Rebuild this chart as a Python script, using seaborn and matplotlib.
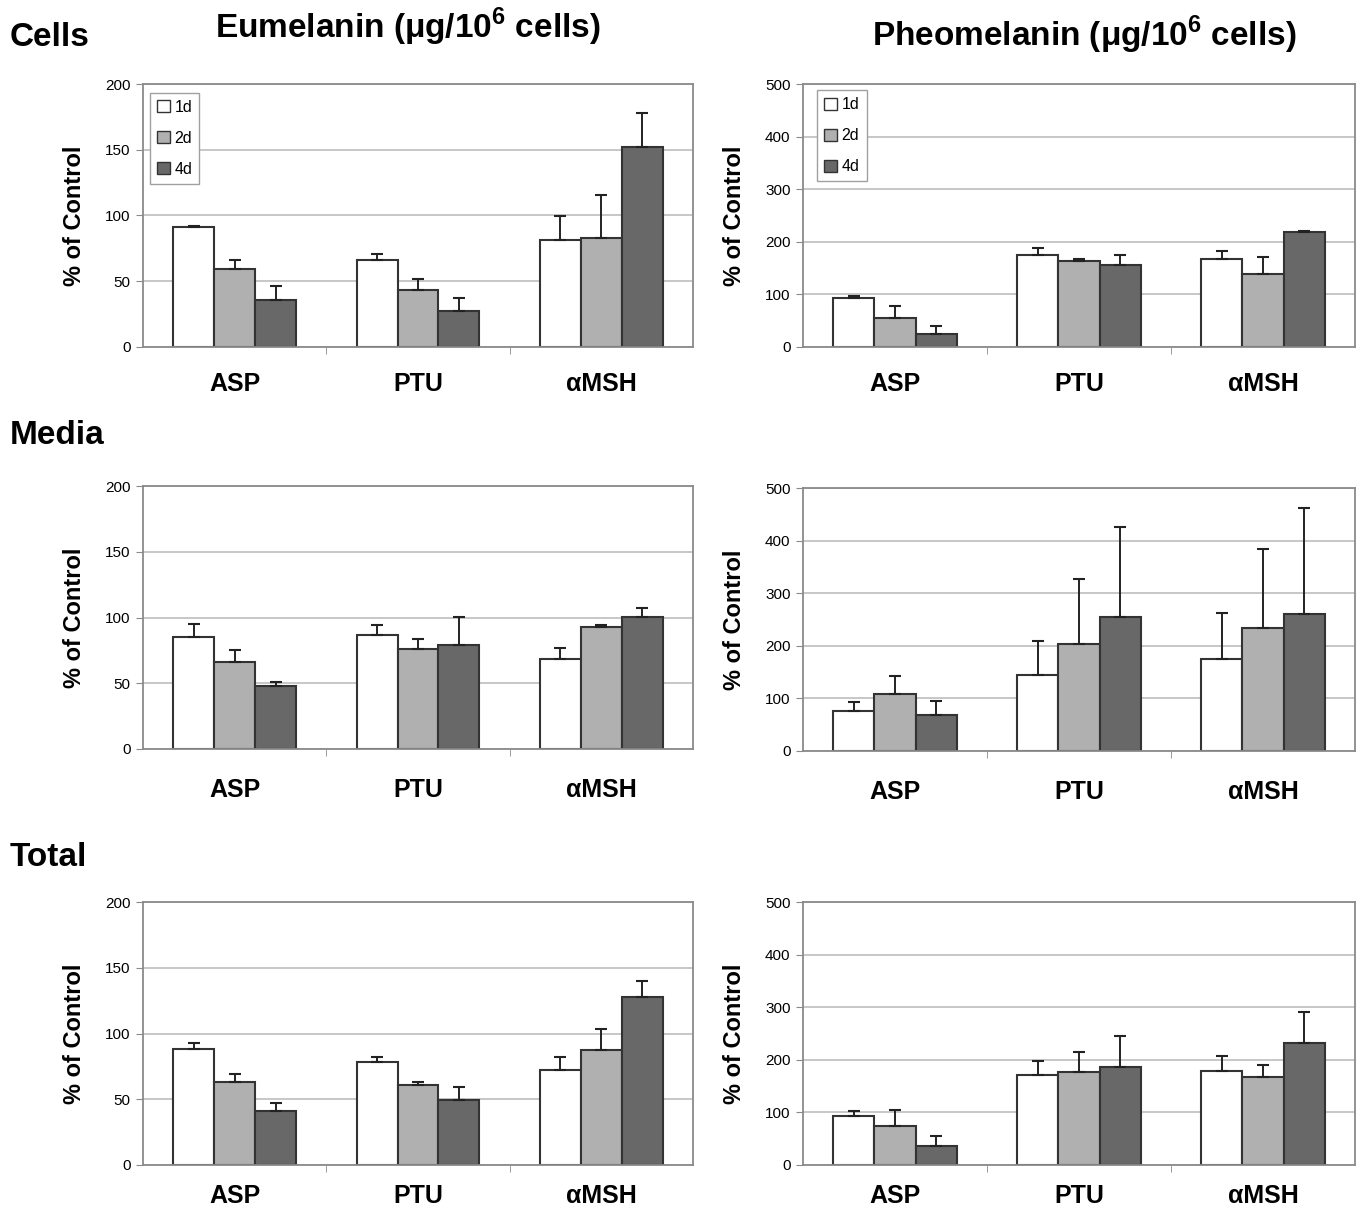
import numpy as np
import pandas as pd
import matplotlib
matplotlib.use('Agg')
import matplotlib.pyplot as plt
from matplotlib.container import BarContainer
import seaborn as sns

# grupos e dias
grupos = ['ASP', 'PTU', 'αMSH']
dias = ['1d', '2d', '4d']
cores = ['#ffffff', '#b0b0b0', '#686868']

# valores (media por dia, lista por grupo ASP/PTU/aMSH)
cells_eu_media = [[91.4, 66.2, 81.7], [59.6, 43.1, 82.7], [35.6, 27.4, 152.0]]
cells_eu_erro = [[0.8, 4.6, 17.8], [6.6, 8.4, 33.0], [10.9, 9.9, 25.6]]

cells_pheo_media = [[92.6, 175.2, 166.4], [54.2, 163.8, 139.3], [23.9, 155.0, 219.3]]
cells_pheo_erro = [[5.1, 13.8, 16.3], [24.6, 2.6, 32.7], [16.4, 20.2, 1.2]]

media_eu_media = [[84.8, 87.0, 68.3], [66.0, 75.9, 92.6], [48.0, 79.4, 100.3]]
media_eu_erro = [[10.6, 7.4, 8.3], [9.6, 7.6, 1.8], [2.8, 20.9, 6.6]]

media_pheo_media = [[76.8, 145.3, 175.8], [109.1, 203.0, 233.5], [67.9, 255.7, 261.4]]
media_pheo_erro = [[15.8, 63.5, 87.5], [33.7, 123.8, 151.0], [27.9, 170.7, 200.6]]

total_eu_media = [[88.1, 78.2, 72.4], [62.8, 60.5, 87.1], [41.0, 49.4, 127.6]]
total_eu_erro = [[4.6, 4.3, 10.1], [6.1, 2.3, 16.7], [6.3, 9.8, 12.4]]

total_pheo_media = [[93.0, 170.9, 178.5], [74.0, 176.0, 167.7], [35.4, 186.7, 231.0]]
total_pheo_erro = [[9.5, 25.9, 27.8], [30.4, 38.6, 22.2], [19.6, 58.3, 60.8]]

linhas = ['Cells', 'Media', 'Total']
titulos = ['Eumelanin (μg/10$^{\\mathbf{6}}$ cells)', 'Pheomelanin (μg/10$^{\\mathbf{6}}$ cells)']

paineis = [
    [(cells_eu_media, cells_eu_erro), (cells_pheo_media, cells_pheo_erro)],
    [(media_eu_media, media_eu_erro), (media_pheo_media, media_pheo_erro)],
    [(total_eu_media, total_eu_erro), (total_pheo_media, total_pheo_erro)],
]

sns.set_style('white')
plt.rcParams['font.family'] = ['Liberation Sans', 'DejaVu Sans']
plt.rcParams['mathtext.fontset'] = 'custom'
plt.rcParams['mathtext.rm'] = 'Liberation Sans'
plt.rcParams['mathtext.bf'] = 'Liberation Sans:bold'
plt.rcParams['text.color'] = 'black'
plt.rcParams['axes.labelcolor'] = 'black'
plt.rcParams['xtick.color'] = 'black'
plt.rcParams['ytick.color'] = 'black'

fig = plt.figure(figsize=(13.6, 12.09), dpi=100)

W, H = 1360, 1209
esquerdas = [143, 803]
larguras = [550, 552]
topos = [[84, 84], [486, 488], [902, 902]]
bases = [[347, 347], [749, 751], [1165, 1165]]
legend_pos = [(0.012, 0.967), (0.025, 0.977)]
pads_x = [18, 21, 14]

for r in range(3):
    for c in range(2):
        top = topos[r][c]
        bot = bases[r][c]
        ax = fig.add_axes([esquerdas[c] / W, 1 - bot / H, larguras[c] / W, (bot - top) / H])
        medias, erros = paineis[r][c]
        df = pd.DataFrame({
            'grupo': grupos * 3,
            'dia': [d for d in dias for _ in grupos],
            'valor': [v for linha in medias for v in linha],
        })
        sns.barplot(data=df, x='grupo', y='valor', hue='dia', order=grupos, hue_order=dias,
                    palette=cores, saturation=1, width=0.67, edgecolor='#333333', linewidth=1.5,
                    errorbar=None, ax=ax, legend=(r == 0))
        barras = [cont for cont in ax.containers if isinstance(cont, BarContainer)]
        for i, cont in enumerate(barras):
            for barra, e in zip(cont, erros[i]):
                ax.errorbar(barra.get_x() + barra.get_width() / 2, barra.get_height(),
                            yerr=[[0], [e]], fmt='none', ecolor='#222222', elinewidth=1.4,
                            capsize=4, capthick=1.5, zorder=5)

        if c == 0:
            ax.set_ylim(0, 200)
            ax.set_yticks([0, 50, 100, 150, 200])
        else:
            ax.set_ylim(0, 500)
            ax.set_yticks([0, 100, 200, 300, 400, 500])
        ax.set_xlim(-0.5, 2.5)
        ax.yaxis.grid(True, color='#b8b8b8', linewidth=1.1)
        ax.set_axisbelow(True)
        for s in ax.spines.values():
            s.set_visible(True)
            s.set_color('#8a8a8a')
            s.set_linewidth(1.3)
        ax.set_xticks([0.5, 1.5], minor=True)
        ax.tick_params(axis='x', which='major', length=0, pad=pads_x[r], labelsize=18)
        ax.tick_params(axis='x', which='minor', length=5, color='#8a8a8a', direction='out', bottom=True)
        ax.tick_params(axis='y', length=5, color='#8a8a8a', labelcolor='black', direction='out',
                       left=True, labelsize=11, pad=4)
        for t in ax.get_xticklabels():
            t.set_fontweight('bold')
        ax.set_xlabel('')
        ax.set_ylabel('% of Control', fontsize=17, fontweight='bold', labelpad=14)

        if r == 0:
            h, l = ax.get_legend_handles_labels()
            for hh in h:
                hh.set_edgecolor('#333333')
                hh.set_linewidth(1.0)
            ax.legend(h, l, loc='upper left', bbox_to_anchor=legend_pos[c], borderaxespad=0,
                      fontsize=11.5, frameon=True, fancybox=False, framealpha=1,
                      edgecolor='#a0a0a0', handlelength=0.8, handleheight=0.8,
                      handletextpad=0.3, labelspacing=1.0, borderpad=0.45)

# rotulos das linhas e titulos das colunas
fig.text(10 / W, 1 - 38 / H, linhas[0], fontsize=24, fontweight='bold', va='center', ha='left')
fig.text(10 / W, 1 - 435 / H, linhas[1], fontsize=24, fontweight='bold', va='center', ha='left')
fig.text(10 / W, 1 - 857 / H, linhas[2], fontsize=24, fontweight='bold', va='center', ha='left')
fig.text(408 / W, 1 - 27 / H, titulos[0], fontsize=24, fontweight='bold', va='center', ha='center')
fig.text(1084 / W, 1 - 35 / H, titulos[1], fontsize=24, fontweight='bold', va='center', ha='center')

fig.savefig('out.png', dpi=100, facecolor='white')
